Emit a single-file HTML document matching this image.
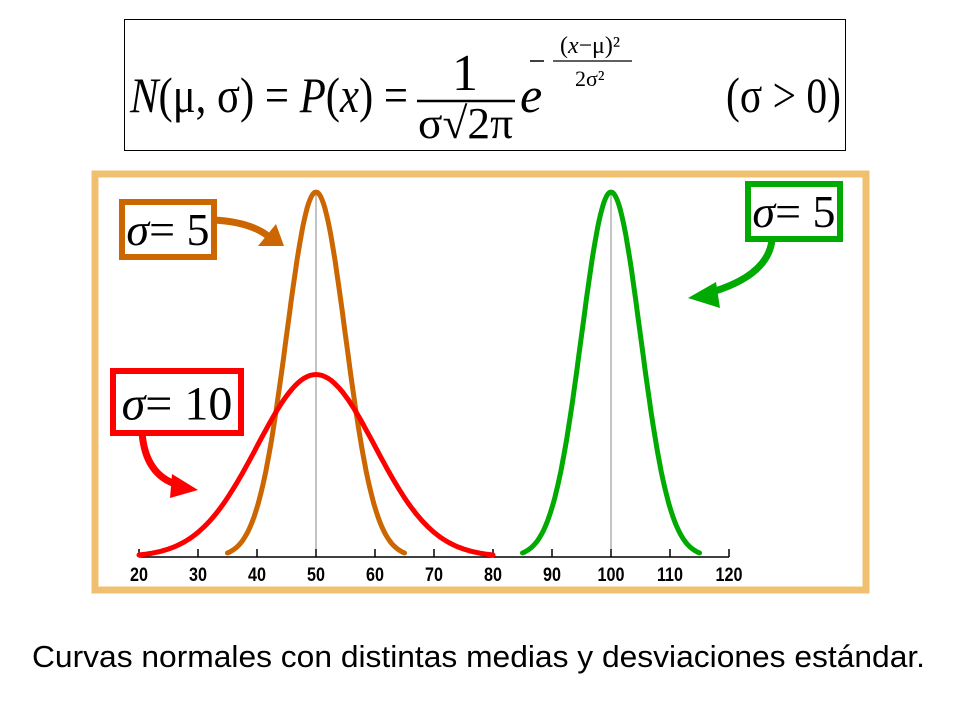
<!DOCTYPE html>
<html><head><meta charset="utf-8"><style>
html,body{margin:0;padding:0;background:#fff;}
svg{display:block;}
</style></head><body>
<svg id="chart" width="960" height="720" viewBox="0 0 960 720" xmlns="http://www.w3.org/2000/svg">
<g font-family="Liberation Serif, serif" fill="#000">
  <rect x="124.5" y="19.5" width="721" height="131" fill="#fff" stroke="#000" stroke-width="1"/>
  <text x="130" y="112" font-size="50" textLength="278" lengthAdjust="spacingAndGlyphs"><tspan font-style="italic">N</tspan>(μ, σ) = <tspan font-style="italic">P</tspan>(<tspan font-style="italic">x</tspan>) =</text>
  <text x="452" y="90" font-size="52">1</text>
  <line x1="417" y1="101" x2="515" y2="101" stroke="#000" stroke-width="2.5"/>
  <text x="418" y="138" font-size="44" textLength="95" lengthAdjust="spacingAndGlyphs">σ√2π</text>
  <text x="520" y="112" font-size="50" font-style="italic">e</text>
  <line x1="530" y1="61" x2="544" y2="61" stroke="#000" stroke-width="1.5"/>
  <text x="560" y="53" font-size="24" textLength="60" lengthAdjust="spacingAndGlyphs"><tspan>(</tspan><tspan font-style="italic">x</tspan>−μ)²</text>
  <line x1="553" y1="61" x2="632" y2="61" stroke="#000" stroke-width="1.2"/>
  <text x="575" y="86" font-size="22">2σ²</text>
  <text x="726" y="112" font-size="50" textLength="115" lengthAdjust="spacingAndGlyphs">(σ &gt; 0)</text>
</g>
<rect x="95" y="174" width="771" height="416" fill="#fff" stroke="#f0c070" stroke-width="7"/>
<g id="plot"></g>
<text x="32" y="667" textLength="893" lengthAdjust="spacingAndGlyphs" font-family="Liberation Sans, sans-serif" font-size="31" fill="#000">Curvas normales con distintas medias y desviaciones estándar.</text>
</svg>
<script>
const ticks=[20,30,40,50,60,70,80,90,100,110,120];
const means=[50,50,100];
const sigmas=[5,10,5];
const starts=[35,20,85];
const ends=[65,80,115];
const colors=['#cc6600','#ff0000','#00aa00'];
const names=['curve-mu50-sigma5','curve-mu50-sigma10','curve-mu100-sigma5'];
const NS='http://www.w3.org/2000/svg';
const x=v=>139+(v-20)*5.9;
const base=557;
const y=d=>base-d/0.0798*365;
const pdf=(v,m,s)=>Math.exp(-((v-m)**2)/(2*s*s))/(s*Math.sqrt(2*Math.PI));
const g=document.getElementById('plot');
function mk(t,a){const e=document.createElementNS(NS,t);for(const k in a)e.setAttribute(k,a[k]);g.appendChild(e);return e;}
[50,100].forEach(m=>{
  const l=mk('line',{x1:x(m),x2:x(m),y1:base,y2:y(pdf(m,m,5)),stroke:'#888','stroke-width':1});
  
  
});
const ax=mk('line',{x1:x(20),x2:x(120),y1:base,y2:base,stroke:'#000','stroke-width':1.5});


ticks.forEach(t=>{
  const tk=mk('line',{x1:x(t),x2:x(t),y1:base-8,y2:base,stroke:'#000','stroke-width':1.5});
  
  
  const tx=mk('text',{x:x(t),y:base+24,'text-anchor':'middle','font-family':'Liberation Sans, sans-serif','font-size':19,'font-weight':'bold',transform:'translate('+x(t)+',0) scale(0.85,1) translate('+(-x(t))+',0)'});
  tx.textContent=t;
  
  
});
means.forEach((m,i)=>{
  let d='';
  for(let k=0;k<=120;k++){const v=starts[i]+(ends[i]-starts[i])*k/120;d+=(k?'L':'M')+x(v).toFixed(1)+','+y(pdf(v,m,sigmas[i])).toFixed(1);}
  const p=mk('path',{d:d,fill:'none',stroke:colors[i],'stroke-width':5,'stroke-linecap':'round'});
  
  
});
function label(bx,by,w,h,col,txt,name,fs){
  const r=mk('rect',{x:bx,y:by,width:w,height:h,fill:'#fff',stroke:col,'stroke-width':6});
  
  
  const t=mk('text',{x:bx+w/2,y:by+h*0.78,'text-anchor':'middle','font-family':'Liberation Serif, serif','font-size':fs});
  t.innerHTML='<tspan font-style="italic">σ</tspan>= '+txt;
  
  
}
function arrow(d,tip,col,name){
  const p=mk('path',{d:d,fill:'none',stroke:col,'stroke-width':7});
  
  
  const h=mk('polygon',{points:tip,fill:col});
  
  
}
label(122,202,92,55,'#cc6600','5','label-orange-sigma5',46);
arrow('M214,220 Q250,222 268,236','258,246 284,246 276,224','#cc6600','arrow-orange');
label(748,184,92,55,'#00aa00','5','label-green-sigma5',46);
arrow('M772,240 Q768,275 712,292','716,282 688,298 720,308','#00aa00','arrow-green');
label(113,371,128,62,'#ff0000','10','label-red-sigma10',48);
arrow('M142,432 Q145,475 178,485','172,474 198,490 170,498','#ff0000','arrow-red');
</script>
</body></html>
